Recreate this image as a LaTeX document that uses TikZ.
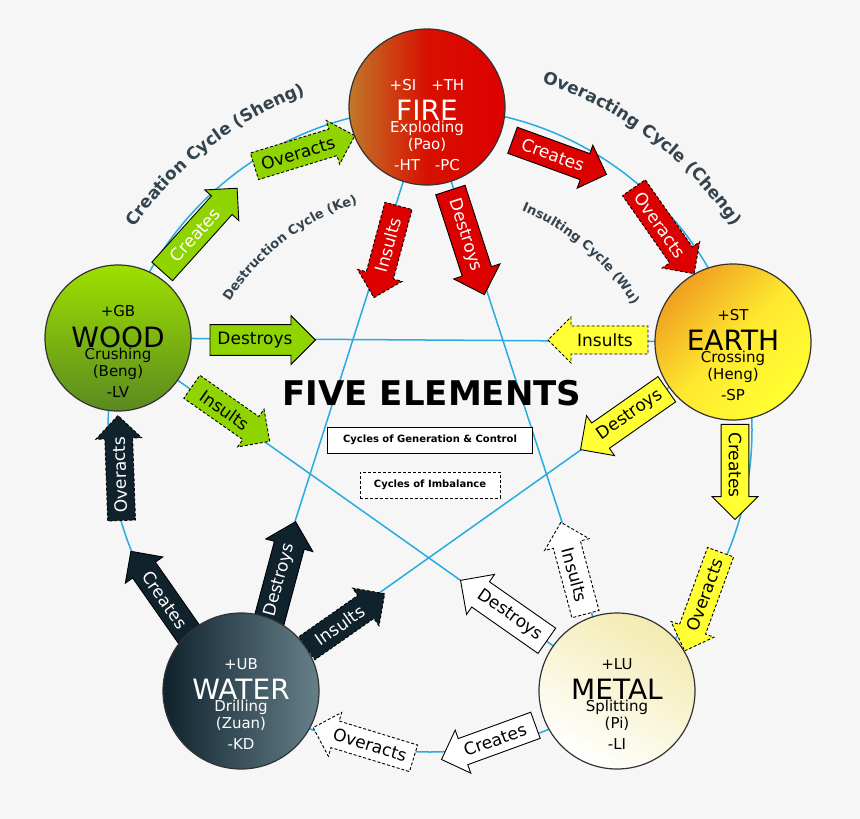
\documentclass[tikz,border=0pt]{standalone}
\usepackage{fontspec}
\setmainfont{DejaVu Sans}
\usetikzlibrary{shapes.arrows,decorations.text}
\definecolor{bg}{HTML}{F6F6F6}
\definecolor{blu}{HTML}{29AAE2}
\definecolor{grn}{HTML}{8FD400}
\definecolor{rd}{HTML}{DD0000}
\definecolor{yl}{HTML}{FFFF33}
\definecolor{dk}{HTML}{10232D}
\definecolor{wt}{HTML}{FFFFFF}
\definecolor{lab}{HTML}{34444F}
\definecolor{fireA}{HTML}{C0782A}
\definecolor{fireB}{HTML}{D81000}
\definecolor{earthA}{HTML}{F0A020}
\definecolor{earthM}{HTML}{FFE830}
\definecolor{earthB}{HTML}{FFFF30}
\definecolor{woodA}{HTML}{9EE000}
\definecolor{woodB}{HTML}{92D400}
\definecolor{woodC}{HTML}{5A8A20}
\definecolor{watA}{HTML}{0F222C}
\definecolor{watB}{HTML}{16303B}
\definecolor{watC}{HTML}{66808A}
\definecolor{metA}{HTML}{F3EBB0}
\newcommand\flp[1]{\rotatebox{180}{#1}}
\tikzset{
  arr/.style={single arrow, draw=black, line width=0.9pt, single arrow head extend=9pt,
    inner sep=7pt, font=\fontsize{17}{17}\selectfont, anchor=center},
  dsh/.style={dash pattern=on 3pt off 2pt},
  elem/.style={circle, draw=black!80, line width=1.2pt, minimum size=156pt, inner sep=0pt},
  etext/.style={align=center, font=\fontsize{15}{17}\selectfont, inner sep=0pt},
  legend/.style={draw=black, line width=1pt, fill=white, font=\fontsize{10}{10}\selectfont\bfseries, minimum height=26pt},
}
\newcommand\bigt[1]{{\fontsize{28}{30}\selectfont #1}}
\begin{document}
\begin{tikzpicture}[x=1pt,y=-1pt]
\useasboundingbox (0,0) rectangle (860,819);
\fill[bg] (0,0) rectangle (860,819);
\coordinate (C) at (430,430);
% lines
\draw[blu, line width=1.5pt] (C) circle[radius=322];
\coordinate (pF) at (427,107);
\coordinate (pE) at (733,342);
\coordinate (pW) at (118,338);
\coordinate (pA) at (241,691);
\coordinate (pM) at (617,691);
\draw[blu, line width=1.5pt] (pF) -- (pA) (pF) -- (pM) (pW) -- (pE) (pW) -- (pM) (pE) -- (pA);
% curved labels
\path[decorate, decoration={text along path, text align=center,
  text={|\fontsize{17}{17}\selectfont\bfseries\color{lab}|Creation Cycle (Sheng)}}]
  (C) ++(-152:358) arc[start angle=-152, end angle=-104, radius=358];
\path[decorate, decoration={text along path, text align=center,
  text={|\fontsize{17}{17}\selectfont\bfseries\color{lab}|Overacting Cycle (Cheng)}}]
  (C) ++(-80:365) arc[start angle=-80, end angle=-26, radius=365];
\path[decorate, decoration={text along path, text align=center,
  text={|\fontsize{13}{13}\selectfont\bfseries\color{lab}|Destruction Cycle (Ke)}}]
  (C) ++(-155:238) arc[start angle=-155, end angle=-100, radius=238];
\path[decorate, decoration={text along path, text align=center,
  text={|\fontsize{13}{13}\selectfont\bfseries\color{lab}|Insulting Cycle (Wu)}}]
  (C) ++(-76:238) arc[start angle=-76, end angle=-23, radius=238];
% arrows
\node[arr, fill=grn, text=white, rotate=48, minimum height=112] (a1) at (195,235) {Creates};
\node[arr, dsh, fill=grn, text=black, rotate=17, minimum height=102] (a2) at (298,153) {Overacts};
\node[arr, fill=rd, text=white, rotate=-20, minimum height=100] (a3) at (553,155) {Creates};
\node[arr, dsh, fill=rd, text=white, rotate=-55, minimum height=100] (a4) at (660,225) {Overacts};
\node[arr, fill=yl, text=black, rotate=-90, minimum height=95] (a5) at (735,465) {Creates};
\node[arr, dsh, fill=yl, text=black, rotate=-110, minimum height=95] (a6) at (705,595) {\flp{Overacts}};
\node[arr, fill=wt, text=black, rotate=200, minimum height=100] (a7) at (495,740) {\flp{Creates}};
\node[arr, dsh, fill=wt, text=black, rotate=163, minimum height=100] (a8) at (370,745) {\flp{Overacts}};
\node[arr, fill=dk, text=white, rotate=125, minimum height=105] (a9) at (165,600) {\flp{Creates}};
\node[arr, dsh, fill=dk, text=white, rotate=92, minimum height=100] (a10) at (120,475) {Overacts};
\node[arr, fill=dk, text=white, rotate=75, minimum height=105] (a11) at (280,580) {Destroys};
\node[arr, dsh, fill=dk, text=white, rotate=35, minimum height=95] (a12) at (340,625) {Insults};
\node[arr, dsh, fill=rd, text=white, rotate=-105, minimum height=95] (a13) at (388,245) {\flp{Insults}};
\node[arr, fill=rd, text=white, rotate=-72, minimum height=110] (a14) at (465,235) {Destroys};
\node[arr, dsh, fill=yl, text=black, rotate=180, minimum height=100] (a15) at (605,340) {\flp{Insults}};
\node[arr, fill=yl, text=black, rotate=215, minimum height=100] (a16) at (630,415) {\flp{Destroys}};
\node[arr, dsh, fill=wt, text=black, rotate=105, minimum height=95] (a17) at (575,575) {\flp{Insults}};
\node[arr, fill=wt, text=black, rotate=145, minimum height=105] (a18) at (510,615) {\flp{Destroys}};
\node[arr, fill=grn, text=black, rotate=0, minimum height=100] (a19) at (255,340) {Destroys};
\node[arr, dsh, fill=grn, text=black, rotate=-35, minimum height=95] (a20) at (225,410) {Insults};
% elements
\node[elem, left color=fireA, right color=rd, middle color=fireB] (fire) at (pF) {};
\node[etext, text=white] (fireT) at ([yshift=-18pt]pF)
  {+SI\quad +TH\\[9pt]\bigt{FIRE}\\[-5pt]Exploding\\(Pao)\\[4pt]-HT\quad -PC};
\node[elem, top color=earthA, bottom color=earthB, middle color=earthM, shading angle=45] (earth) at (pE) {};
\node[etext, text=black] (earthT) at ([yshift=-13pt]pE)
  {+ST\\[9pt]\bigt{EARTH}\\[-5pt]Crossing\\(Heng)\\[4pt]-SP};
\node[elem, top color=woodA, middle color=woodB, bottom color=woodC, minimum size=146pt] (wood) at (pW) {};
\node[etext, text=black] (woodT) at ([yshift=-13pt]pW)
  {+GB\\[9pt]\bigt{WOOD}\\[-5pt]Crushing\\(Beng)\\[4pt]-LV};
\node[elem, left color=watA, middle color=watB, right color=watC] (water) at (pA) {};
\node[etext, text=white] (waterT) at ([yshift=-13pt]pA)
  {+UB\\[9pt]\bigt{WATER}\\[-5pt]Drilling\\(Zuan)\\[4pt]-KD};
\node[elem, top color=metA, middle color=white, bottom color=white, shading angle=-30] (metal) at (pM) {};
\node[etext, text=black] (metalT) at ([yshift=-13pt]pM)
  {+LU\\[9pt]\bigt{METAL}\\[-5pt]Splitting\\(Pi)\\[4pt]-LI};
% title and legend
\node[font=\fontsize{34}{34}\selectfont\bfseries] (title) at (432,393) {FIVE ELEMENTS};
\node[legend, minimum width=205pt] (leg1) at (430,440) {Cycles of Generation \& Control};
\node[legend, dsh, minimum width=140pt] (leg2) at (430,485) {Cycles of Imbalance};
\end{tikzpicture}
\end{document}
